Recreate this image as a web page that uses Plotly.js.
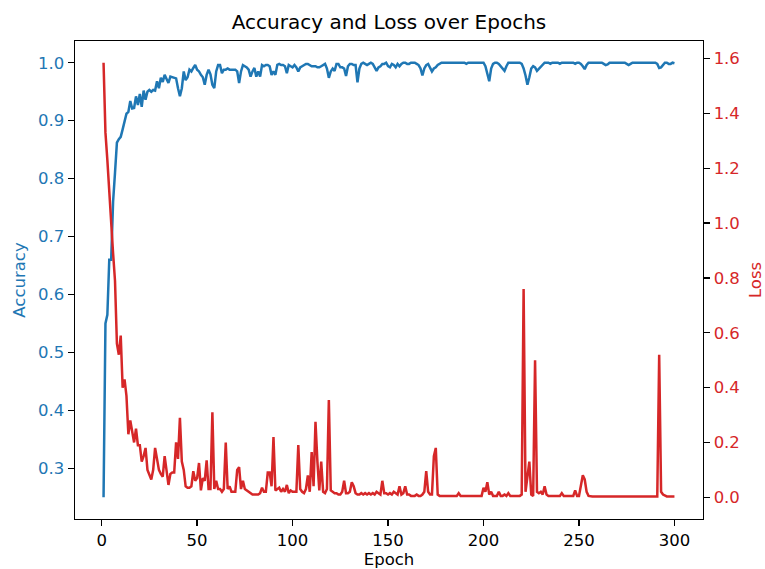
<!DOCTYPE html>
<html>
<head>
<meta charset="utf-8">
<script src="https://cdn.plot.ly/plotly-3.0.1.min.js"></script>
<style>
  html, body { margin: 0; padding: 0; background: #ffffff; }
  #chart { width: 765px; height: 569px; }
</style>
</head>
<body>
<div id="chart"></div>
<script>
// Accuracy per epoch (epochs 1..300)
const accuracy = [
  0.25, 0.55, 0.565, 0.66, 0.66, 0.76, 0.81, 0.862, 0.868, 0.872,
  0.885, 0.90, 0.912, 0.915, 0.934, 0.921, 0.922, 0.942, 0.927, 0.946,
  0.924, 0.952, 0.936, 0.950, 0.953, 0.950, 0.953, 0.952, 0.968, 0.956,
  0.974, 0.967, 0.979, 0.972, 0.965, 0.976, 0.975, 0.975, 0.973, 0.956,
  0.942, 0.956, 0.985, 0.970, 0.975, 0.988, 0.985, 0.991, 0.996, 0.988,
  0.985, 0.979, 0.975, 0.962, 0.979, 0.988, 0.980, 0.962, 0.956, 0.985,
  0.996, 0.996, 0.982, 0.988, 0.988, 0.990, 0.988, 0.988, 0.988, 0.988,
  0.985, 0.965, 0.985, 0.996, 0.994, 0.992, 0.988, 0.976, 0.985, 0.991,
  0.976, 0.985, 0.976, 0.996, 0.994, 0.996, 0.996, 0.994, 0.979, 0.985,
  0.979, 0.9965, 0.998, 0.996, 0.996, 0.994, 0.982, 0.996, 0.994, 0.992,
  0.996, 0.992, 0.985, 0.992, 0.994, 0.996, 0.998, 0.998, 0.996, 0.994,
  0.994, 0.994, 0.992, 0.992, 0.994, 0.996, 0.998, 0.990, 0.974, 0.985,
  0.990, 0.986, 0.998, 0.998, 0.992, 0.992, 0.990, 0.977, 0.994, 0.998,
  0.998, 0.996, 0.996, 0.966, 0.990, 0.998, 1.0, 0.998, 0.996, 0.998,
  1.0, 0.998, 0.992, 0.986, 0.992, 0.994, 0.998, 0.998, 1.0, 0.994,
  0.992, 0.998, 0.996, 0.992, 0.998, 0.994, 0.998, 1.0, 1.0, 0.998,
  0.998, 1.0, 1.0, 1.0, 0.998, 0.996, 0.990, 0.978, 0.990, 0.996,
  0.998, 0.990, 0.985, 0.990, 0.992, 0.996, 0.998, 1.0, 1.0, 1.0,
  1.0, 1.0, 1.0, 1.0, 1.0, 1.0, 1.0, 1.0, 1.0, 1.0,
  0.998, 1.0, 1.0, 1.0, 1.0, 1.0, 1.0, 1.0, 1.0, 1.0,
  0.994, 0.982, 0.968, 0.990, 0.998, 1.0, 1.0, 0.998, 0.994, 0.990,
  0.986, 0.994, 1.0, 1.0, 1.0, 1.0, 1.0, 1.0, 1.0, 0.998,
  0.990, 0.978, 0.962, 0.975, 0.990, 0.994, 0.992, 0.986, 0.990, 0.994,
  0.996, 1.0, 1.0, 1.0, 0.998, 1.0, 1.0, 1.0, 1.0, 0.998,
  1.0, 1.0, 1.0, 1.0, 1.0, 1.0, 1.0, 0.998, 1.0, 1.0,
  0.998, 0.994, 0.989, 0.996, 1.0, 1.0, 1.0, 1.0, 1.0, 1.0,
  1.0, 1.0, 0.998, 0.996, 0.997, 1.0, 1.0, 1.0, 1.0, 1.0,
  1.0, 1.0, 1.0, 1.0, 0.998, 0.996, 0.998, 1.0, 1.0, 1.0,
  1.0, 1.0, 1.0, 1.0, 1.0, 1.0, 1.0, 1.0, 1.0, 1.0,
  0.998, 0.991, 0.992, 0.996, 1.0, 1.0, 0.998, 0.998, 1.0, 0.999
];

// Loss per epoch (epochs 1..300)
const loss = [
  1.585, 1.33, 1.23, 1.11, 0.97, 0.89, 0.79, 0.56, 0.52, 0.59,
  0.40, 0.43, 0.37, 0.23, 0.28, 0.24, 0.20, 0.25, 0.19, 0.19,
  0.13, 0.15, 0.18, 0.10, 0.08, 0.065, 0.10, 0.18, 0.14, 0.10,
  0.085, 0.075, 0.15, 0.09, 0.045, 0.085, 0.09, 0.09, 0.20, 0.14,
  0.29, 0.13, 0.10, 0.04, 0.035, 0.035, 0.04, 0.095, 0.06, 0.07,
  0.125, 0.025, 0.07, 0.06, 0.135, 0.03, 0.03, 0.31, 0.03, 0.06,
  0.03, 0.03, 0.02, 0.03, 0.20, 0.03, 0.04, 0.02, 0.02, 0.02,
  0.10, 0.11, 0.03, 0.06, 0.03, 0.025, 0.02, 0.015, 0.01, 0.01,
  0.01, 0.01, 0.015, 0.035, 0.02, 0.02, 0.09, 0.09, 0.04, 0.22,
  0.025, 0.03, 0.035, 0.02, 0.03, 0.02, 0.045, 0.015, 0.025, 0.02,
  0.02, 0.02, 0.19, 0.03, 0.02, 0.015, 0.03, 0.08, 0.02, 0.165,
  0.04, 0.275, 0.13, 0.025, 0.13, 0.02, 0.015, 0.03, 0.355, 0.025,
  0.02, 0.015, 0.015, 0.01, 0.01, 0.02, 0.06, 0.015, 0.015, 0.02,
  0.055, 0.04, 0.015, 0.01, 0.01, 0.015, 0.01, 0.015, 0.01, 0.015,
  0.01, 0.015, 0.01, 0.02, 0.015, 0.01, 0.06, 0.015, 0.015, 0.01,
  0.015, 0.01, 0.02, 0.015, 0.01, 0.04, 0.01, 0.015, 0.04, 0.01,
  0.01, 0.005, 0.005, 0.005, 0.01, 0.005, 0.005, 0.01, 0.02, 0.095,
  0.02, 0.01, 0.01, 0.15, 0.18, 0.01, 0.005, 0.005, 0.005, 0.005,
  0.005, 0.005, 0.005, 0.005, 0.005, 0.005, 0.015, 0.005, 0.005, 0.005,
  0.005, 0.005, 0.005, 0.005, 0.005, 0.005, 0.005, 0.005, 0.005, 0.035,
  0.02, 0.055, 0.01, 0.02, 0.005, 0.005, 0.005, 0.02, 0.005, 0.005,
  0.01, 0.005, 0.015, 0.005, 0.005, 0.005, 0.005, 0.005, 0.005, 0.01,
  0.76, 0.02, 0.07, 0.13, 0.01, 0.005, 0.50, 0.02, 0.015, 0.02,
  0.01, 0.04, 0.01, 0.005, 0.005, 0.005, 0.005, 0.005, 0.005, 0.005,
  0.015, 0.005, 0.005, 0.005, 0.005, 0.005, 0.005, 0.025, 0.005, 0.005,
  0.05, 0.08, 0.065, 0.02, 0.005, 0.003, 0.003, 0.003, 0.003, 0.003,
  0.003, 0.003, 0.003, 0.003, 0.003, 0.003, 0.003, 0.003, 0.003, 0.003,
  0.003, 0.003, 0.003, 0.003, 0.003, 0.003, 0.003, 0.003, 0.003, 0.003,
  0.003, 0.003, 0.003, 0.003, 0.005, 0.003, 0.003, 0.003, 0.003, 0.003,
  0.003, 0.52, 0.02, 0.01, 0.005, 0.003, 0.003, 0.003, 0.003, 0.003
];

// Epoch index (x axis)
const epochs = accuracy.map((_, i) => i + 1);

const titleText = 'Accuracy and Loss over Epochs';
const xLabel = 'Epoch';
const yLabel = 'Accuracy';
const y2Label = 'Loss';

const blue = '#1f77b4';
const red = '#d62728';
const fontFamily = '"DejaVu Sans", Verdana, sans-serif';

const traces = [
  {
    x: epochs, y: accuracy, type: 'scatter', mode: 'lines', name: 'Accuracy',
    line: { color: blue, width: 2.5 }, yaxis: 'y'
  },
  {
    x: epochs, y: loss, type: 'scatter', mode: 'lines', name: 'Loss',
    line: { color: red, width: 2.5 }, yaxis: 'y2'
  }
];

const axisCommon = {
  showgrid: false, zeroline: false, showline: true,
  linecolor: '#000000', linewidth: 1.33,
  ticks: 'outside', ticklen: 6, tickwidth: 1.33, tickcolor: '#000000'
};

const layout = {
  width: 765, height: 569,
  margin: { l: 75, r: 62, t: 41, b: 50, pad: 0 },
  paper_bgcolor: '#ffffff', plot_bgcolor: '#ffffff',
  font: { family: fontFamily, size: 16.5, color: '#000000' },
  showlegend: false,
  title: {
    text: titleText, font: { family: fontFamily, size: 20, color: '#000000' },
    x: 0.5, xref: 'paper', xanchor: 'center',
    y: 1 - 22 / 569, yref: 'container', yanchor: 'middle'
  },
  xaxis: Object.assign({}, axisCommon, {
    range: [-13.95, 314.95], tick0: 0, dtick: 50, mirror: true,
    tickfont: { size: 16.5, color: '#000000' },
    title: { text: xLabel, font: { size: 16.5, color: '#000000' }, standoff: 7 }
  }),
  yaxis: Object.assign({}, axisCommon, {
    range: [0.2125, 1.0375], tick0: 0, dtick: 0.1, tickformat: '.1f',
    tickfont: { size: 16.5, color: blue },
    title: { text: yLabel, font: { size: 16.5, color: blue }, standoff: 8 }
  }),
  yaxis2: Object.assign({}, axisCommon, {
    overlaying: 'y', side: 'right', anchor: 'x',
    range: [-0.0793, 1.6643], tick0: 0, dtick: 0.2, tickformat: '.1f',
    tickfont: { size: 16.5, color: red },
    title: { text: y2Label, font: { size: 16.5, color: red }, standoff: 11 }
  })
};

Plotly.newPlot('chart', traces, layout, { displayModeBar: false, staticPlot: true });
</script>
</body>
</html>
